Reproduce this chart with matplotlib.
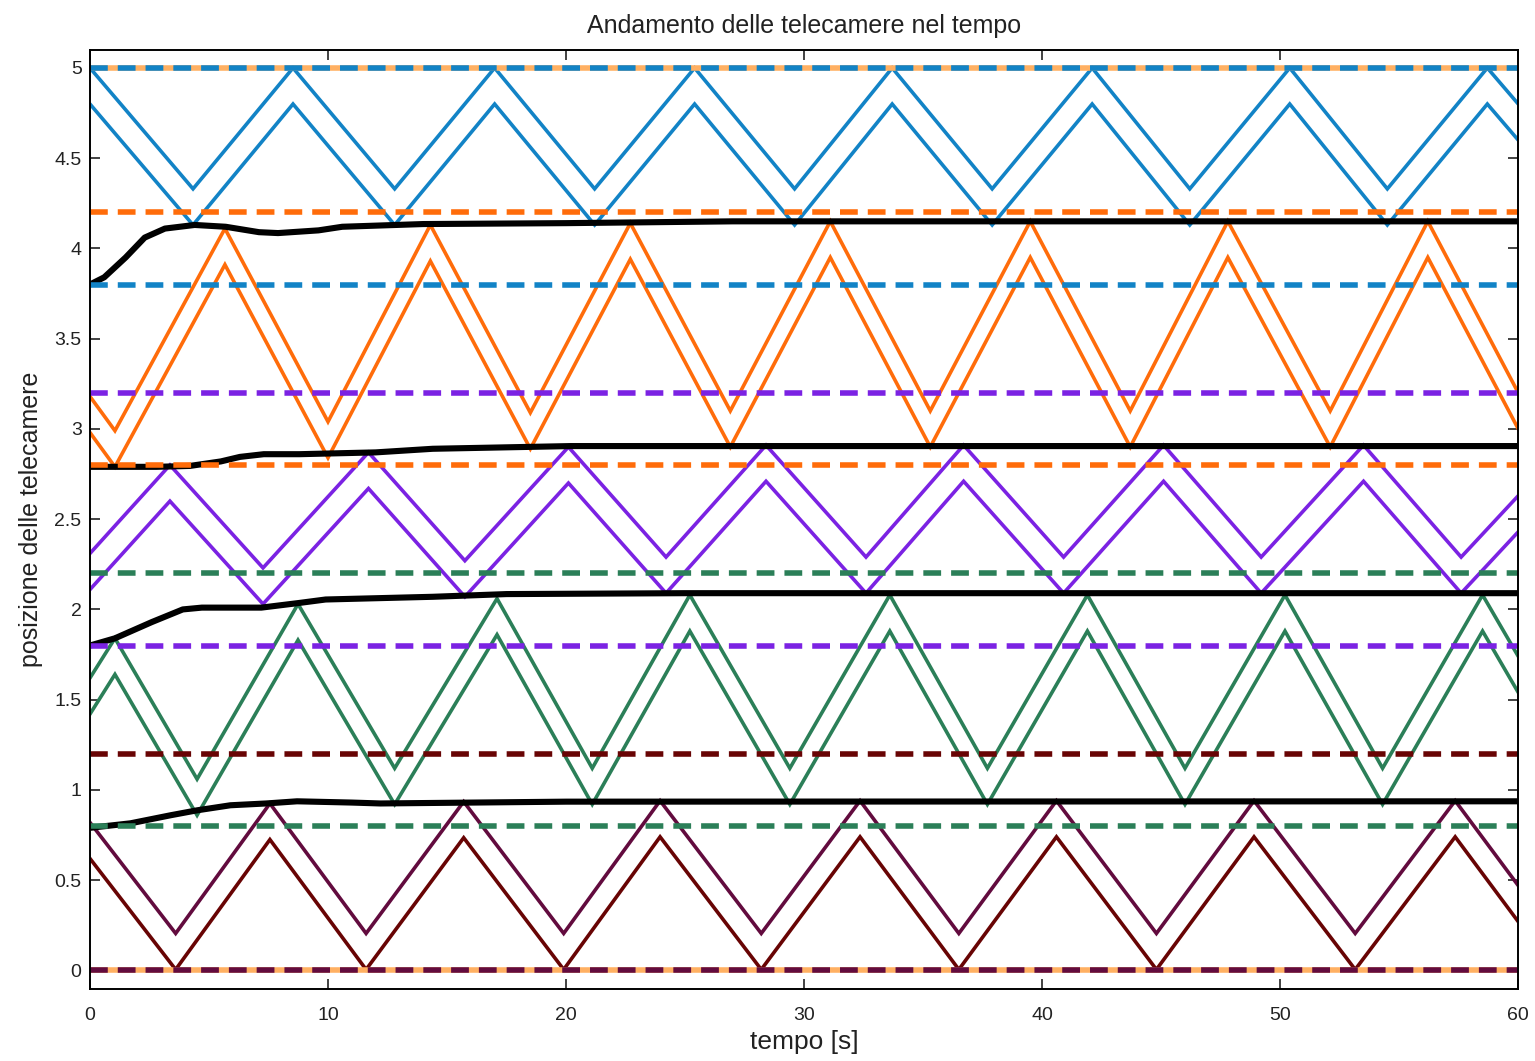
import matplotlib
matplotlib.use("Agg")
import matplotlib.pyplot as plt
import numpy as np

# camera upper edge vertices (time [s], position); lower edge is upper - fov
blue_t = [0, 4.33, 8.53, 12.8, 17.0, 21.2, 25.4, 29.6, 33.7, 37.9, 42.1, 46.2, 50.4, 54.5, 58.7, 60]
blue_y = [5.0, 4.33, 5.0, 4.33, 5.0, 4.33, 5.0, 4.33, 5.0, 4.33, 5.0, 4.33, 5.0, 4.33, 5.0, 4.8]

orange_t = [0, 1.05, 5.67, 10.0, 14.3, 18.5, 22.7, 26.9, 31.1, 35.3, 39.5, 43.7, 47.8, 52.1, 56.2, 60]
orange_y = [3.18, 2.99, 4.11, 3.04, 4.13, 3.09, 4.14, 3.10, 4.15, 3.10, 4.15, 3.10, 4.15, 3.10, 4.15, 3.2]

purple_t = [0, 3.36, 7.27, 11.7, 15.75, 20.1, 24.2, 28.4, 32.6, 36.7, 40.9, 45.1, 49.2, 53.5, 57.6, 60]
purple_y = [2.31, 2.80, 2.23, 2.87, 2.27, 2.90, 2.29, 2.91, 2.29, 2.91, 2.29, 2.91, 2.29, 2.91, 2.29, 2.63]

green_t = [0, 1.05, 4.5, 8.74, 12.8, 17.1, 21.1, 25.2, 29.4, 33.6, 37.7, 41.9, 46.0, 50.2, 54.3, 58.5, 60]
green_y = [1.62, 1.84, 1.06, 2.03, 1.12, 2.06, 1.12, 2.08, 1.12, 2.08, 1.12, 2.08, 1.12, 2.08, 1.12, 2.08, 1.74]

red_t = [0, 3.6, 7.56, 11.6, 15.7, 19.9, 23.95, 28.2, 32.35, 36.5, 40.6, 44.8, 48.9, 53.15, 57.35, 60]
red_y = [0.82, 0.205, 0.925, 0.205, 0.935, 0.205, 0.94, 0.205, 0.94, 0.205, 0.94, 0.205, 0.94, 0.205, 0.94, 0.47]

fov = 0.2

# boundaries between cameras (black)
b1_t = [0, 0.6, 1.5, 2.3, 3.15, 4.4, 5.7, 7.1, 7.9, 9.6, 10.6, 14, 20, 27, 60]
b1_y = [3.80, 3.84, 3.95, 4.06, 4.11, 4.13, 4.12, 4.09, 4.085, 4.10, 4.12, 4.135, 4.14, 4.15, 4.15]
b2_t = [0, 2.8, 4.2, 5.5, 6.3, 7.3, 8.8, 12, 14.4, 20.2, 60]
b2_y = [2.79, 2.79, 2.795, 2.82, 2.845, 2.86, 2.86, 2.87, 2.89, 2.905, 2.905]
b3_t = [0, 1.05, 2.6, 3.9, 4.7, 7.2, 8.74, 9.9, 14.4, 17.5, 25, 60]
b3_y = [1.80, 1.84, 1.93, 2.0, 2.01, 2.01, 2.035, 2.055, 2.07, 2.085, 2.09, 2.09]
b4_t = [0, 1.7, 3.4, 4.5, 5.9, 7.4, 8.7, 11, 12.2, 20, 60]
b4_y = [0.79, 0.815, 0.86, 0.887, 0.915, 0.925, 0.937, 0.93, 0.925, 0.935, 0.937]

# camera limits (dashed)
limit_levels = [5.0, 4.2, 3.8, 3.2, 2.8, 2.2, 1.8, 1.2, 0.8, 0.0]

c_blue = "#1283c6"
c_orange = "#ff6c0a"
c_purple = "#7b22e3"
c_green = "#2b7f58"
c_red = "#680404"
c_maroon = "#620b3e"
c_peach = "#ffb062"
limit_colors = [c_blue, c_orange, c_blue, c_purple, c_orange, c_green, c_purple, c_red, c_green, c_maroon]

plt.rcParams['font.family'] = ['Liberation Sans', 'DejaVu Sans']

fig = plt.figure(figsize=(15.35, 10.61), dpi=100)
ax = fig.add_axes([0.0586, 0.0675, 0.9305, 0.8855])

cams = [(blue_t, blue_y, c_blue, c_blue),
        (orange_t, orange_y, c_orange, c_orange),
        (purple_t, purple_y, c_purple, c_purple),
        (green_t, green_y, c_green, c_green),
        (red_t, red_y, c_maroon, c_red)]
for t, y, cu, cl in cams:
    ax.plot(t, y, color=cu, lw=2.6, solid_joinstyle="miter")
    ax.plot(t, np.array(y) - fov, color=cl, lw=2.6, solid_joinstyle="miter")

for t, y in [(b1_t, b1_y), (b2_t, b2_y), (b3_t, b3_y), (b4_t, b4_y)]:
    ax.plot(t, y, color="black", lw=4.4, solid_capstyle="butt")

for lev, c in zip(limit_levels, limit_colors):
    if lev in (0.0, 5.0):
        ax.plot([0, 60], [lev, lev], color=c_peach, lw=4.0)
    ax.plot([0, 60], [lev, lev], color=c, lw=4.0, dashes=(3.2, 1.8))

ax.set_xlim(0, 60)
ax.set_ylim(-0.105, 5.1)
ax.set_xticks(np.arange(0, 61, 10))
ax.set_yticks(np.arange(0, 5.01, 0.5))
ax.set_yticklabels(["0", "0.5", "1", "1.5", "2", "2.5", "3", "3.5", "4", "4.5", "5"])
ax.tick_params(direction="in", top=True, right=True, length=7, width=1.2,
               labelsize=14, colors="#222222")
ax.tick_params(axis="x", pad=13)
ax.tick_params(axis="y", pad=6)
for s in ax.spines.values():
    s.set_linewidth(1.4)

ax.set_title("Andamento delle telecamere nel tempo", fontsize=18, pad=12, color="#222222")
ax.set_xlabel("tempo [s]", fontsize=19, labelpad=4, color="#222222")
ax.set_ylabel("posizione delle telecamere", fontsize=18, labelpad=8, color="#222222")

fig.savefig("out.png", dpi=100)
